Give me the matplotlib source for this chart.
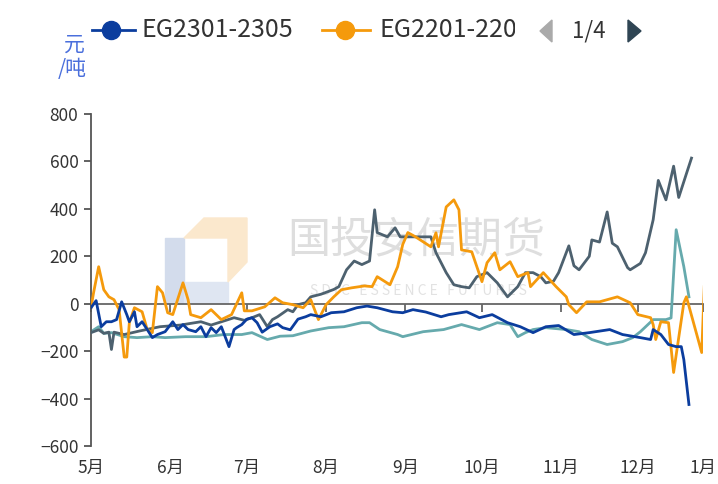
import matplotlib
matplotlib.use('Agg')
import matplotlib.pyplot as plt
from matplotlib.lines import Line2D
from matplotlib.patches import Polygon, Rectangle
from matplotlib.transforms import Bbox, TransformedBbox
import pandas as pd

plt.rcParams['font.family'] = ['Noto Sans CJK SC', 'DejaVu Sans']

start = pd.Timestamp('2022-05-01')

# days counted from 5/1, values in 元/吨
blue_day = [0, 2, 4, 6, 8, 10, 12, 14, 15, 17, 18, 20, 22, 24, 26, 29, 32, 34, 36, 38,
            41, 43, 45, 47, 49, 51, 54, 56, 57, 59, 61, 63, 65, 67, 70, 73, 75, 78, 81, 84,
            86, 90, 94, 99, 104, 108, 112, 118, 122, 126, 131, 137, 140, 147, 152, 157, 163,
            168, 173, 178, 183, 189, 195, 203, 208, 215, 219, 220, 223, 226, 229, 231, 232, 234]
blue_val = [-17, 13, -97, -76, -76, -67, 8, -46, -76, -34, -97, -76, -109, -143, -130, -118,
            -76, -109, -88, -109, -118, -97, -139, -101, -122, -97, -181, -109, -101, -88, -65,
            -59, -80, -120, -97, -85, -101, -110, -65, -55, -46, -55, -38, -34, -17, -10, -17,
            -34, -38, -25, -35, -55, -46, -34, -59, -46, -80, -97, -122, -97, -92, -130, -122,
            -109, -130, -143, -151, -109, -130, -172, -181, -181, -236, -425]

orange_day = [0, 1, 3, 5, 7, 9, 11, 13, 14, 15, 17, 20, 22, 24, 26, 28, 30, 32, 36, 38, 39,
              43, 47, 51, 55, 59, 60, 63, 68, 72, 75, 79, 83, 86, 89, 92, 95, 98, 102, 107,
              110, 112, 117, 120, 122, 124, 127, 133, 135, 136, 139, 142, 144, 145, 149, 153,
              155, 158, 160, 164, 167, 171, 172, 177, 182, 186, 187, 190, 194, 199, 206, 211,
              214, 219, 220, 221, 223, 226, 228, 232, 233, 239, 240]
orange_val = [-17, 46, 156, 59, 29, 17, -25, -225, -225, -80, -17, -34, -109, -122, 72, 46,
              -38, -46, 88, 17, -46, -59, -25, -67, -46, 46, -30, -30, -13, 25, 4, -4, -17, 17,
              -67, -4, 29, 59, 67, 75, 72, 114, 80, 156, 250, 300, 282, 240, 299, 240, 408, 438,
              396, 227, 219, 93, 173, 215, 143, 177, 114, 131, 72, 131, 72, 29, -4, -38, 8, 8,
              29, 4, -46, -59, -88, -151, -76, -80, -290, 4, 29, -206, 72]

gray_day = [0, 3, 5, 7, 8, 9, 13, 19, 27, 35, 43, 47, 56, 60, 63, 66, 69, 71, 73, 77, 79, 81,
            84, 86, 90, 95, 97, 100, 103, 106, 109, 111, 112, 116, 119, 121, 126, 133, 135,
            139, 142, 145, 148, 151, 155, 159, 163, 167, 170, 173, 176, 178, 181, 183, 187,
            189, 191, 195, 196, 199, 202, 204, 206, 210, 211, 215, 217, 220, 222, 225, 228,
            230, 233, 235]
gray_val = [-122, -110, -125, -120, -193, -120, -130, -115, -97, -90, -76, -90, -59, -70, -59,
            -46, -97, -67, -55, -25, -34, -4, 4, 29, 40, 60, 72, 143, 180, 165, 180, 396, 300,
            282, 320, 282, 282, 282, 215, 131, 80, 72, 67, 114, 131, 88, 29, 72, 131, 131, 114,
            88, 95, 131, 244, 160, 143, 200, 269, 260, 387, 255, 240, 152, 143, 170, 215, 354,
            520, 438, 580, 448, 548, 614]

teal_day = [0, 3, 5, 8, 13, 18, 24, 29, 37, 45, 52, 59, 63, 69, 74, 79, 86, 93, 99, 106, 109,
            113, 120, 122, 130, 138, 145, 152, 159, 164, 167, 170, 173, 178, 186, 191, 196, 202,
            208, 212, 215, 220, 225, 227, 229, 232, 234]
teal_val = [-118, -97, -125, -122, -139, -143, -139, -143, -139, -139, -130, -130, -122, -151,
            -137, -135, -115, -101, -97, -80, -80, -109, -130, -139, -118, -109, -88, -109, -80,
            -88, -139, -122, -109, -101, -109, -118, -151, -172, -160, -143, -118, -67, -67,
            -60, 312, 156, 29]

month_labels = ['5月', '6月', '7月', '8月', '9月', '10月', '11月', '12月', '1月']
legend_names = ['EG2301-2305', 'EG2201-2205']

c_blue = '#0b3d9e'
c_orange = '#f59a0c'
c_gray = '#4d616f'
c_teal = '#66aaad'

W, H = 718, 484
fig = plt.figure(figsize=(W / 100, H / 100), dpi=100)
ax = fig.add_axes([91 / W, 1 - 446 / H, (703 - 91) / W, (446 - 114) / H])


def fx(px):
    return px / W


def fy(py):
    return 1 - py / H


# watermark / logo
ax.add_patch(Rectangle((fx(165), fy(303)), (184 - 165) / W, (303 - 238) / H,
                       transform=fig.transFigure, color='#d3dcec', zorder=0, clip_on=False))
ax.add_patch(Rectangle((fx(184), fy(303)), (228 - 184) / W, (303 - 282) / H,
                       transform=fig.transFigure, color='#dfe6f2', zorder=0, clip_on=False))
ax.add_patch(Polygon([(fx(184), fy(238)), (fx(204), fy(218)), (fx(247), fy(218)),
                      (fx(247), fy(262)), (fx(228), fy(282)), (fx(228), fy(238))],
                     closed=True, transform=fig.transFigure, color='#fbe8cd', zorder=0,
                     clip_on=False))
ax.text(fx(416), fy(240), '国投安信期货', transform=fig.transFigure, fontsize=31,
        color='#dedede', ha='center', va='center', zorder=0)
ax.text(fx(418), fy(291), 'S D I C   E S S E N C E   F U T U R E S', transform=fig.transFigure,
        fontsize=10, color='#e2e2e2', ha='center', va='center', zorder=0)

days = lambda d: start + pd.to_timedelta(d, unit='D')
ax.plot(days(teal_day), teal_val, color=c_teal, lw=2.0, zorder=2)
ax.plot(days(gray_day), gray_val, color=c_gray, lw=2.0, zorder=3)
ax.plot(days(orange_day), orange_val, color=c_orange, lw=2.0, zorder=4)
ax.plot(days(blue_day), blue_val, color=c_blue, lw=2.0, zorder=5)

ax.set_ylim(-600, 800)
ax.set_yticks(range(-600, 801, 200))
ax.set_yticklabels([str(v).replace('-', '−') for v in range(-600, 801, 200)])
x_end = days(239.5)
ax.set_xlim(start, x_end)
ticks = list(pd.date_range('2022-05-01', '2022-12-01', freq='MS')) + [x_end]
ax.set_xticks(ticks)
ax.set_xticklabels(month_labels)

for s in ['top', 'right']:
    ax.spines[s].set_visible(False)
ax.spines['left'].set_color('#555555')
ax.spines['left'].set_linewidth(1.3)
ax.spines['bottom'].set_position(('data', 0))
ax.spines['bottom'].set_color('#666666')
ax.spines['bottom'].set_linewidth(1.3)
ax.spines['bottom'].set_zorder(1)
ax.tick_params(axis='y', length=5, width=1.3, color='#555555', labelsize=12.5,
               labelcolor='#333333', pad=4)
ax.tick_params(axis='x', length=6, width=1.3, color='#666666', labelsize=12.5,
               labelcolor='#333333', pad=106)

# unit label
fig.text(fx(74), fy(45), '元', fontsize=15, color='#4a6fdc', ha='center', va='center')
fig.text(fx(72), fy(69), '/吨', fontsize=15, color='#4a6fdc', ha='center', va='center')

# legend (first page)
fig.add_artist(Line2D([fx(92), fx(135)], [fy(30), fy(30)], color=c_blue, lw=2,
                      transform=fig.transFigure))
fig.add_artist(Line2D([fx(111)], [fy(30)], color=c_blue, marker='o', markersize=13,
                      transform=fig.transFigure))
fig.text(fx(142), fy(30), legend_names[0], fontsize=18, color='#333333', va='center')
fig.add_artist(Line2D([fx(322), fx(370)], [fy(30), fy(30)], color=c_orange, lw=2,
                      transform=fig.transFigure))
fig.add_artist(Line2D([fx(345)], [fy(30)], color=c_orange, marker='o', markersize=13,
                      transform=fig.transFigure))
t = fig.text(fx(379), fy(30), legend_names[1], fontsize=18, color='#333333', va='center')
t.set_clip_box(TransformedBbox(Bbox([[0, 0], [fx(515), 1]]), fig.transFigure))
t.set_clip_on(True)
fig.add_artist(Polygon([(fx(552), fy(20)), (fx(552), fy(42)), (fx(540), fy(31))],
                       closed=True, transform=fig.transFigure, color='#aaaaaa'))
fig.text(fx(589), fy(31), '1/4', fontsize=16, color='#333333', ha='center', va='center')
fig.add_artist(Polygon([(fx(628), fy(20)), (fx(628), fy(42)), (fx(641), fy(31))],
                       closed=True, transform=fig.transFigure, color='#2f4554'))

fig.savefig('out.png', dpi=100)
